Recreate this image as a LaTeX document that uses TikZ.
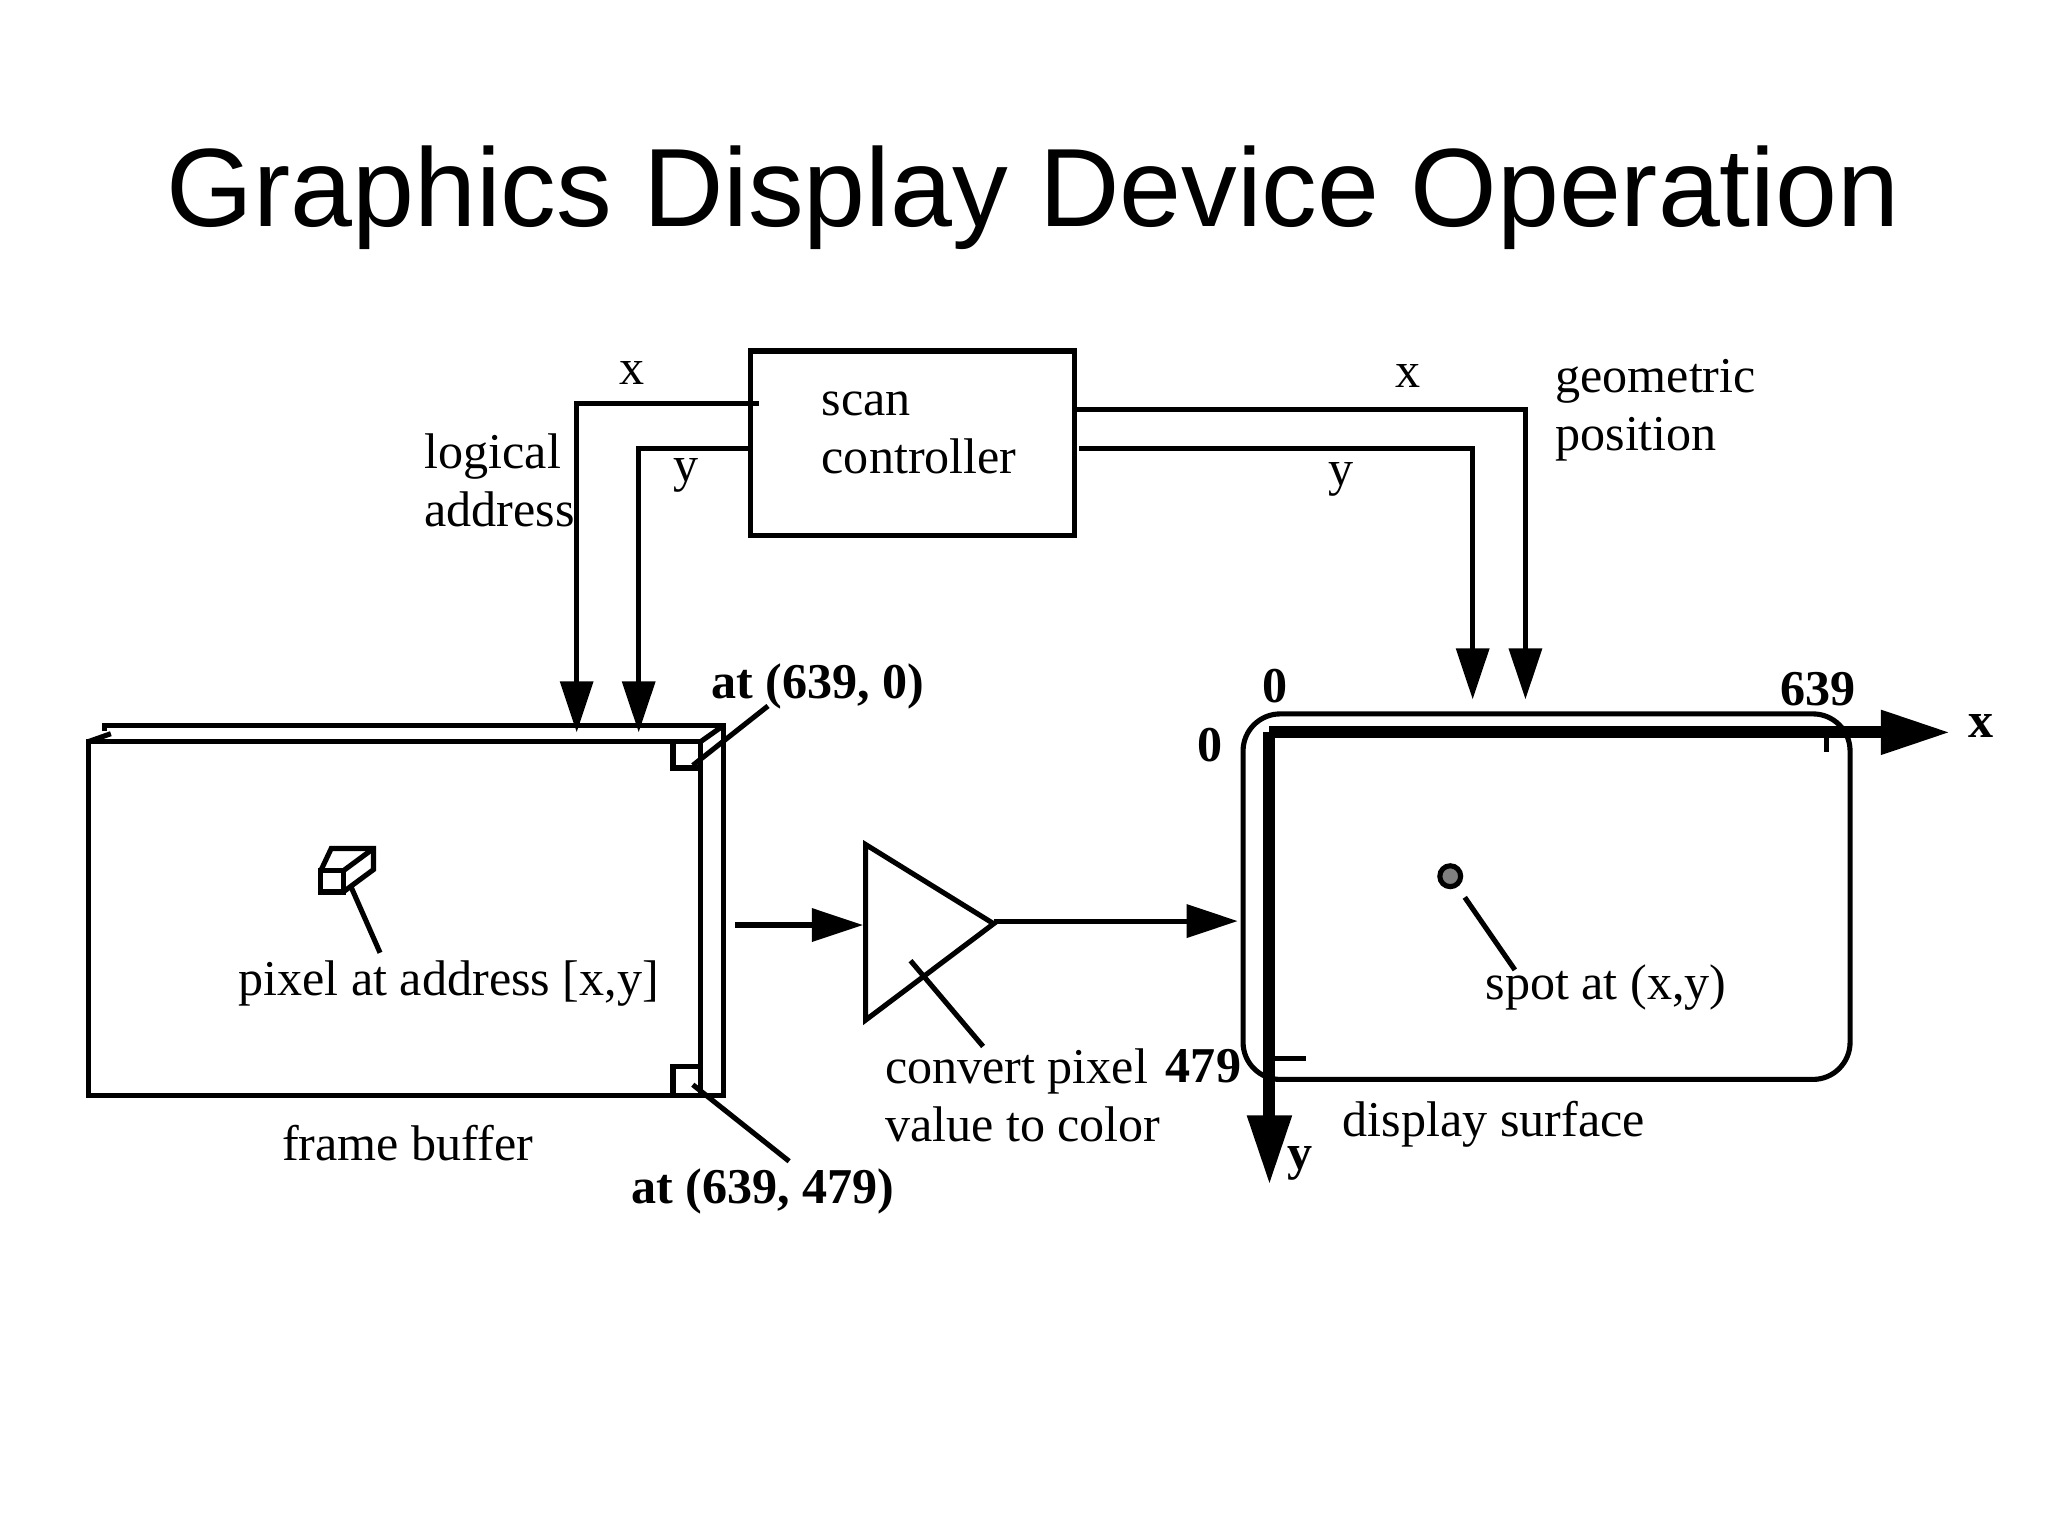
\documentclass[tikz,border=0pt]{standalone}
\usepackage{fontspec}
\setmainfont{Liberation Serif}
\newfontfamily\titlefont{Liberation Sans}
\usetikzlibrary{arrows.meta}
\begin{document}
\begin{tikzpicture}[x=0.01cm,y=-0.01cm,
  ln/.style={line width=1.1pt},
  arr/.style={ln,-{Triangle[length=11pt,width=7pt]}},
  lbl/.style={font=\fontsize{10.8}{12}\selectfont,inner sep=0pt},
  blbl/.style={font=\fontsize{10.8}{12}\selectfont\bfseries,inner sep=0pt},
  ml/.style={lbl,align=left,font=\fontsize{10.8}{12.6}\selectfont}]
\useasboundingbox (0,0) rectangle (1552,1164);
\node[font=\titlefont\fontsize{24}{28}\selectfont] (title) at (783,150) {Graphics Display Device Operation};
% scan controller
\draw[ln] (569,266) rectangle (814,406);
\node[ml,anchor=west] (sc) at (622,328) {scan\\controller};
\coordinate (xl0) at (575,306); \coordinate (xl1) at (437,306); \coordinate (xl2) at (437,555);
\coordinate (yl0) at (569,340); \coordinate (yl1) at (484,340); \coordinate (yl2) at (484,555);
\draw[arr] (xl0) -- (xl1) -- (xl2);
\draw[arr] (yl0) -- (yl1) -- (yl2);
\node[lbl] (lx) at (479,283) {x};
\node[lbl] (ly) at (520,360) {y};
\node[ml,anchor=west] (la) at (321,364) {logical\\address};
\coordinate (xr0) at (814,310); \coordinate (xr1) at (1156,310); \coordinate (xr2) at (1156,530);
\coordinate (yr0) at (818,340); \coordinate (yr1) at (1116,340); \coordinate (yr2) at (1116,530);
\draw[arr] (xr0) -- (xr1) -- (xr2);
\draw[arr] (yr0) -- (yr1) -- (yr2);
\node[lbl] (rx) at (1067,285) {x};
\node[lbl] (ry) at (1016,363) {y};
\node[ml,anchor=west] (gp) at (1178,311) {geometric\\position};
% frame buffer
\draw[ln] (67,562) rectangle (531,830);
\draw[ln] (67,562) -- (84,556);
\draw[ln] (79,554) -- (79,550) -- (548,550) -- (548,830) -- (531,830);
\draw[ln] (531,562) -- (548,550);
\draw[ln] (510,562) rectangle (531,582);
\draw[ln] (510,808) rectangle (531,830);
\node[blbl] (a0) at (620,520) {at (639, 0)};
\draw[ln] (525,580) -- (582,535);
\node[blbl] (a1) at (578,903) {at (639, 479)};
\draw[ln] (525,822) -- (598,880);
% pixel glyph
\draw[ln] (243,660) rectangle (260,676);
\draw[ln] (243,660) -- (251,643) -- (283,643) -- (283,659) -- (260,676);
\draw[ln] (260,660) -- (283,643);
\draw[ln] (266,672) -- (288,722);
\node[lbl] (pa) at (340,745) {pixel at address [x,y]};
\node[lbl] (fb) at (309,866) {frame buffer};
% converter
\coordinate (c0) at (557,701); \coordinate (c1) at (654,701);
\draw[arr] (c0) -- (c1);
\draw[ln] (656,640) -- (656,773) -- (753,700) -- cycle;
\coordinate (c2) at (753,698); \coordinate (c3) at (938,698);
\draw[arr] (c2) -- (c3);
\draw[ln] (690,728) -- (745,793);
\node[ml,anchor=west] (cv) at (670,830) {convert pixel\\value to color};
% display
\draw[ln,rounded corners=8pt] (942,541) rectangle (1402,818);
\draw[line width=2.6pt,-{Triangle[length=15pt,width=9pt]}] (962,555) -- (962,898);
\draw[line width=2.6pt,-{Triangle[length=15pt,width=9pt]}] (962,555) -- (1478,555);
\draw[ln] (1384,555) -- (1384,570);
\draw[ln] (962,802) -- (990,802);
\node[blbl] (o1) at (966,520) {0};
\node[blbl] (o2) at (917,565) {0};
\node[blbl] (n639) at (1378,522) {639};
\node[blbl] (ax) at (1501,550) {x};
\node[blbl] (n479) at (912,808) {479};
\node[blbl] (ay) at (985,882) {y};
\node[circle,draw,line width=1.1pt,fill=gray,minimum size=4.5pt,inner sep=0pt] (spot) at (1099,664) {};
\draw[ln] (1110,680) -- (1148,735);
\node[lbl] (sp) at (1217,748) {spot at (x,y)};
\node[lbl] (ds) at (1132,852) {display surface};
\end{tikzpicture}
\end{document}
